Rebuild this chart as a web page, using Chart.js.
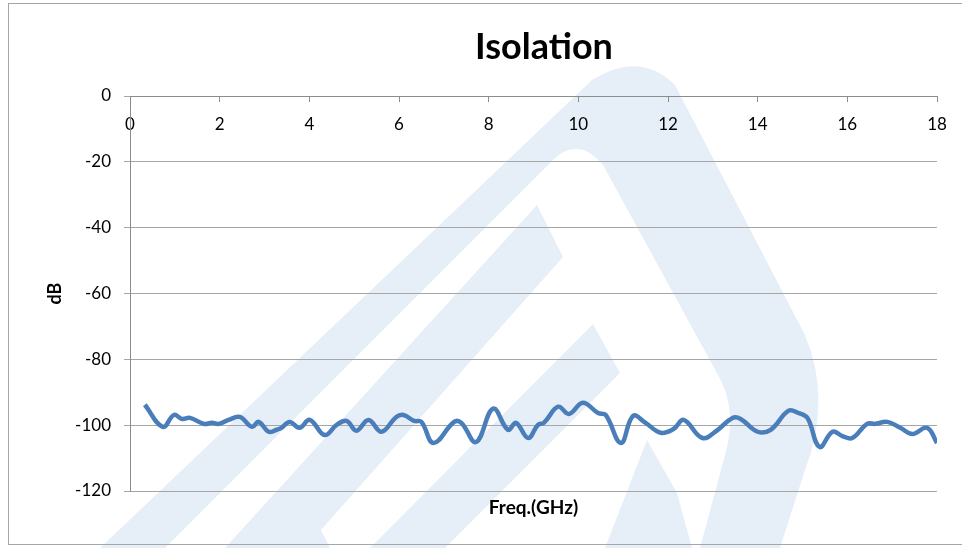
<!DOCTYPE html>
<html>
<head>
<meta charset="utf-8">
<script src="https://cdn.jsdelivr.net/npm/chart.js@4.4.0/dist/chart.umd.min.js"></script>
<style>
  html, body { margin: 0; padding: 0; background: #ffffff; }
  #wrap { width: 962px; height: 548px; position: relative; }
</style>
</head>
<body>
<div id="wrap"><canvas id="isoChart" width="962" height="548"></canvas></div>
<script>
// frequency (GHz) and isolation (dB)
var freq = [0.33, 0.73, 0.98, 1.16, 1.34, 1.65, 1.83, 1.98, 2.2, 2.45, 2.72, 2.87, 3.09, 3.27, 3.38, 3.56, 3.78, 4.01,
  4.34, 4.61, 4.83, 5.05, 5.32, 5.61, 5.94, 6.1, 6.34, 6.5, 6.77, 7.23, 7.39, 7.72, 8.1, 8.43, 8.61, 8.88, 9.1, 9.23,
  9.55, 9.79, 10.1, 10.44, 10.61, 10.95, 11.22, 11.5, 11.84, 12.13, 12.35, 12.77, 13.11, 13.44, 13.62, 14.0, 14.29,
  14.69, 14.91, 15.11, 15.38, 15.67, 15.89, 16.11, 16.44, 16.62, 16.89, 17.18, 17.45, 17.78, 18.0];
var isolation = [-93.8, -100.5, -96.9, -98.1, -97.8, -99.6, -99.3, -99.6, -98.4, -97.5, -100.5, -99.0, -102.0, -101.4, -100.8, -99.0, -100.8, -98.4,
  -103.0, -99.9, -98.7, -101.7, -98.4, -102.0, -97.5, -96.9, -98.7, -99.0, -105.4, -99.0, -99.3, -105.1, -95.0, -101.4, -99.3, -103.9, -99.9, -99.3,
  -94.4, -96.6, -93.2, -96.3, -96.9, -105.4, -97.2, -99.3, -102.3, -101.1, -98.4, -103.9, -101.4, -97.8, -98.1, -102.0, -101.4,
  -95.6, -96.3, -97.8, -106.6, -102.0, -103.3, -103.9, -99.6, -99.6, -99.0, -100.8, -102.7, -100.8, -105.4];
var xTicks = [0, 2, 4, 6, 8, 10, 12, 14, 16, 18];
var yTicks = [0, -20, -40, -60, -80, -100, -120];

var points = [];
for (var i = 0; i < freq.length; i++) {
  points.push({ x: freq[i], y: isolation[i] });
}

var FONT = "Lato, 'Open Sans', sans-serif";

// faint logo in the background and the frame round the chart
var backdrop = {
  id: 'backdrop',
  beforeDraw: function (chart) {
    var ctx = chart.ctx;
    ctx.save();
    ctx.fillStyle = '#e6eff8';
    // big outer shape
    ctx.beginPath();
    ctx.moveTo(100, 548);
    ctx.lineTo(592, 80);
    ctx.quadraticCurveTo(640, 50, 675, 85);
    ctx.lineTo(805, 335);
    ctx.quadraticCurveTo(832, 400, 805, 470);
    ctx.lineTo(780, 548);
    ctx.lineTo(700, 548);
    ctx.lineTo(725, 455);
    ctx.quadraticCurveTo(738, 410, 718, 375);
    ctx.lineTo(603, 165);
    ctx.quadraticCurveTo(578, 135, 553, 160);
    ctx.lineTo(165, 548);
    ctx.closePath();
    ctx.fill();
    // inner stripes
    ctx.beginPath();
    ctx.moveTo(225, 548);
    ctx.lineTo(537, 205);
    ctx.lineTo(563, 257);
    ctx.lineTo(305, 548);
    ctx.closePath();
    ctx.fill();
    ctx.beginPath();
    ctx.moveTo(370, 548);
    ctx.lineTo(593, 324);
    ctx.lineTo(620, 373);
    ctx.lineTo(445, 548);
    ctx.closePath();
    ctx.fill();
    ctx.beginPath();
    ctx.moveTo(647, 440);
    ctx.lineTo(677, 493);
    ctx.lineTo(692, 548);
    ctx.lineTo(605, 548);
    ctx.closePath();
    ctx.fill();
    // bottom-left hump
    ctx.beginPath();
    ctx.moveTo(240, 548);
    ctx.quadraticCurveTo(285, 450, 330, 548);
    ctx.closePath();
    ctx.fill();

    ctx.strokeStyle = '#a6a6a6';
    ctx.lineWidth = 1;
    ctx.strokeRect(8.5, 3.5, 970, 541);
    ctx.restore();
  },
  afterDraw: function (chart) {
    var ctx = chart.ctx;
    ctx.save();
    ctx.fillStyle = '#000000';
    ctx.font = "bold 36px " + FONT;
    ctx.textAlign = 'center';
    ctx.textBaseline = 'middle';
    ctx.fillText('Isolation', 544, 47);
    ctx.restore();
  }
};

var ctx = document.getElementById('isoChart');
var isoChart = new Chart(ctx, {
  type: 'line',
  data: {
    datasets: [{
      label: 'Isolation',
      data: points,
      borderColor: '#4a7ebb',
      backgroundColor: '#4a7ebb',
      borderWidth: 4.5,
      pointRadius: 0,
      tension: 0.4,
      fill: false
    }]
  },
  options: {
    responsive: false,
    animation: false,
    layout: { padding: { left: 0, right: 25, top: 0, bottom: 0 } },
    plugins: {
      legend: { display: false },
      tooltip: { enabled: false }
    },
    scales: {
      x: {
        type: 'linear',
        position: 'top',
        min: 0,
        max: 18,
        afterBuildTicks: function (scale) {
          scale.ticks = xTicks.map(function (v) { return { value: v }; });
        },
        afterFit: function (scale) {
          scale.height = 96;
          scale.paddingLeft = 0;
          scale.paddingRight = 0;
        },
        ticks: {
          mirror: true,
          padding: 18,
          color: '#000000',
          font: { family: FONT, size: 17 }
        },
        grid: {
          drawOnChartArea: false,
          tickLength: -6,
          color: '#8c8c8c'
        },
        border: { color: '#8c8c8c', width: 1 }
      },
      x2: {
        type: 'linear',
        position: 'bottom',
        min: 0,
        max: 18,
        afterFit: function (scale) {
          scale.height = 57;
          scale.paddingLeft = 0;
          scale.paddingRight = 0;
        },
        ticks: { display: false },
        grid: { display: false },
        border: { display: false },
        title: {
          display: true,
          text: 'Freq.(GHz)',
          color: '#000000',
          font: { family: FONT, size: 19, weight: 'bold' },
          padding: { top: 0, bottom: 29 }
        }
      },
      y: {
        min: -120,
        max: 0,
        afterBuildTicks: function (scale) {
          scale.ticks = yTicks.map(function (v) { return { value: v }; });
        },
        afterFit: function (scale) { scale.width = 130; },
        ticks: {
          padding: 13,
          color: '#000000',
          font: { family: FONT, size: 17 }
        },
        grid: {
          color: '#a6a6a6',
          tickLength: 6
        },
        border: { color: '#8c8c8c', width: 1 },
        title: {
          display: true,
          text: 'dB',
          color: '#000000',
          font: { family: FONT, size: 18, weight: 'bold' },
          padding: { top: 44, bottom: 0 }
        }
      }
    }
  },
  plugins: [backdrop]
});
</script>
</body>
</html>
